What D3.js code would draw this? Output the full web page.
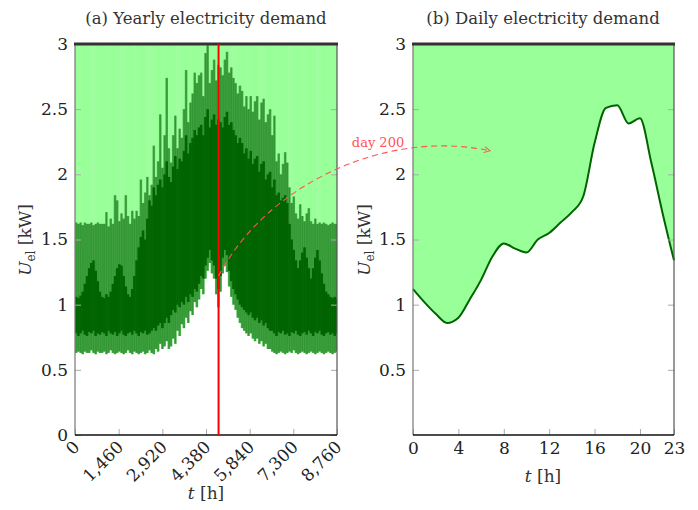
<!DOCTYPE html>
<html>
<head>
<meta charset="utf-8">
<script src="https://cdn.jsdelivr.net/npm/d3@7"></script>
<style>
body { margin: 0; background: #fff; }
svg text { font-family: "DejaVu Serif", "Liberation Serif", "Times New Roman", Times, "Noto Serif", serif; }
</style>
</head>
<body>
<svg id="chart" width="698" height="510"></svg>
<script>
// ------------- DATA ------------- //
var sampleStep = 72; // hours between envelope samples of the yearly series
var selectedDay = 200;

// upper / lower envelope of the hourly yearly demand (kW), one value per sample
var yearHi = [1.63,1.62,1.63,1.61,1.63,1.62,1.62,1.63,1.61,1.62,1.63,1.62,1.62,
  1.62,1.71,1.60,1.66,1.62,1.84,1.80,1.64,1.70,1.66,1.84,1.68,1.62,1.72,1.66,1.72,1.68,
  1.96,1.78,1.86,1.98,1.84,1.92,2.22,1.98,2.10,2.46,2.05,2.30,2.74,2.20,2.09,2.30,2.45,
  2.20,2.35,2.28,2.50,2.80,2.40,2.55,2.62,2.78,2.70,2.76,2.78,2.60,2.93,2.99,2.70,2.80,
  2.88,2.72,2.84,2.82,2.76,2.88,2.94,2.78,2.82,2.74,2.70,2.62,2.68,2.64,2.52,2.60,2.50,
  2.60,2.48,2.56,2.60,2.42,2.55,2.58,2.40,2.46,2.50,2.30,2.45,2.10,2.16,2.00,2.08,2.17,
  2.09,1.90,1.78,1.83,1.70,1.66,1.77,1.68,1.64,1.70,1.74,1.64,1.62,1.66,1.62,1.63,
  1.62,1.63,1.62,1.61,1.62,1.63,1.62,1.62];
var yearLo = [0.63,0.64,0.63,0.62,0.64,0.63,0.63,0.65,0.63,0.62,0.64,0.63,0.63,0.64,0.62,
  0.63,0.65,0.63,0.62,0.63,0.64,0.63,0.62,0.63,0.65,0.63,0.62,0.64,0.63,0.62,0.63,0.64,
  0.62,0.63,0.65,0.63,0.62,0.66,0.64,
  0.70,0.66,0.68,0.72,0.66,0.68,0.74,0.70,0.80,0.76,0.85,0.82,0.90,0.86,0.95,0.92,1.02,
  0.98,1.04,1.12,1.08,1.20,1.26,1.32,1.24,1.20,1.08,0.98,1.10,1.24,1.30,1.25,1.14,1.06,
  1.00,0.96,0.90,0.86,0.82,0.80,0.78,0.76,0.78,0.74,0.72,0.74,0.70,0.72,0.68,0.70,0.66,0.66,
  0.64,0.63,0.62,0.63,0.64,0.63,0.62,0.63,0.64,0.63,0.65,0.63,0.62,0.63,0.64,0.63,0.62,
  0.63,0.64,0.63,0.62,0.63,0.64,0.63,0.62,0.63,0.64,0.63,0.62,0.63,0.64];
// dense core of the hourly oscillation
var coreHi = [1.06,1.05,1.07,1.10,1.16,1.22,1.28,1.32,1.34,1.26,1.18,1.10,1.06,1.05,1.08,
  1.06,1.10,1.16,1.22,1.28,1.31,1.30,1.22,1.14,1.08,1.06,1.12,1.22,1.34,1.44,1.52,1.57,
  1.50,1.66,1.80,1.76,1.90,1.84,1.92,1.96,1.90,2.00,2.10,1.98,1.94,2.06,2.14,2.04,2.12,
  2.10,2.18,2.30,2.16,2.24,2.28,2.34,2.30,2.36,2.38,2.30,2.44,2.50,2.36,2.42,2.46,2.38,
  2.42,2.40,2.36,2.44,2.48,2.38,2.40,2.34,2.30,2.24,2.28,2.24,2.16,2.20,2.12,2.18,2.08,
  2.12,2.14,2.02,2.08,2.10,1.96,2.00,2.02,1.90,1.96,1.84,1.86,1.80,1.82,1.84,1.78,1.62,
  1.50,1.42,1.34,1.28,1.34,1.40,1.44,1.36,1.28,1.20,1.28,1.36,1.42,1.34,1.24,1.16,1.10,
  1.08,1.06,1.05,1.06,1.05];
var coreLo = [0.78,0.76,0.78,0.80,0.77,0.76,0.79,0.78,0.80,0.76,0.78,0.77,0.79,0.78,0.76,
  0.80,0.78,0.77,0.79,0.76,0.78,0.80,0.77,0.76,0.78,0.79,0.77,0.80,0.78,0.76,0.79,0.78,
  0.80,0.77,0.78,0.80,0.82,0.80,0.84,0.86,0.82,
  0.86,0.90,0.86,0.92,0.96,0.94,1.00,0.98,1.02,1.00,1.06,1.02,1.08,1.06,1.12,1.10,1.16,
  1.22,1.20,1.30,1.36,1.42,1.34,1.30,1.20,1.12,1.22,1.36,1.42,1.38,1.26,1.18,1.12,1.08,
  1.04,1.00,0.98,0.96,0.94,0.92,0.94,0.90,0.88,0.90,0.86,0.88,0.84,0.86,0.82,0.80,
  0.80,0.78,0.76,0.79,0.78,0.80,0.77,0.78,0.76,0.79,0.78,0.80,0.77,0.76,0.78,0.79,0.77,
  0.80,0.78,0.76,0.79,0.78,0.80,0.77,0.76,0.78,0.79,0.77,0.78,0.76,0.78];

// hourly demand of day 200 (kW)
var dayHours = [0,1,2,3,4,5,6,7,8,9,10,11,12,13,14,15,16,17,18,19,20,21,22,23];
var dayDemand = [1.12,1.02,0.93,0.86,0.90,1.04,1.19,1.37,1.47,1.43,1.40,1.50,1.55,1.63,
  1.71,1.83,2.24,2.51,2.53,2.39,2.43,2.09,1.70,1.34];

var yearTicks = [0,1460,2920,4380,5840,7300,8760];
var dayTicks = [0,4,8,12,16,20,23];
var yTicks = [0,0.5,1,1.5,2,2.5,3];
var yMax = 3;

// ------------- SETUP ------------- //
var serif = "'DejaVu Serif', 'Liberation Serif', 'Times New Roman', Times, serif";
var lightGreen = "#99ff99", darkGreen = "#006400";
var svg = d3.select("#chart").attr("font-family", serif);
var top_ = 44, bottom = 435;

var xL = d3.scaleLinear().domain([0, 8760]).range([75, 337]);
var xR = d3.scaleLinear().domain([0, 23]).range([413, 674]);
var y = d3.scaleLinear().domain([0, yMax]).range([bottom, top_]);

svg.append("clipPath").attr("id", "clipL").append("rect")
  .attr("x", 75).attr("y", top_).attr("width", 262).attr("height", bottom - top_);

// ------------- LEFT: YEARLY ------------- //
var samples = yearHi.map(function(d, i) {
  return { t: i * sampleStep, hi: d, lo: yearLo[i], cHi: coreHi[i], cLo: coreLo[i] };
});
var bw = xL(sampleStep) - xL(0) + 0.4;
var gL = svg.append("g").attr("clip-path", "url(#clipL)");

gL.selectAll("rect.fill").data(samples).enter().append("rect")
  .attr("x", function(d) { return xL(d.t); })
  .attr("width", bw)
  .attr("y", y(yMax))
  .attr("height", function(d) { return y(d.lo) - y(yMax); })
  .attr("fill", lightGreen);

// outer band, plus thinner streaks on top of it for the dense hourly look
gL.selectAll("rect.outer").data(samples).enter().append("rect")
  .attr("x", function(d) { return xL(d.t); })
  .attr("width", bw)
  .attr("y", function(d) { return y(d.hi); })
  .attr("height", function(d) { return y(d.lo) - y(d.hi); })
  .attr("fill", darkGreen).attr("fill-opacity", 0.5);
gL.selectAll("rect.streak").data(samples).enter().append("rect")
  .attr("x", function(d) { return xL(d.t) + bw * 0.3; })
  .attr("width", bw * 0.45)
  .attr("y", function(d) { return y(d.hi); })
  .attr("height", function(d) { return y(d.lo) - y(d.hi); })
  .attr("fill", darkGreen).attr("fill-opacity", 0.35);

gL.selectAll("rect.core").data(samples).enter().append("rect")
  .attr("x", function(d) { return xL(d.t); })
  .attr("width", bw)
  .attr("y", function(d) { return y(d.cHi); })
  .attr("height", function(d) { return y(d.cLo) - y(d.cHi); })
  .attr("fill", darkGreen);

// ------------- RIGHT: DAILY ------------- //
var day = dayHours.map(function(h, i) { return { h: h, v: dayDemand[i] }; });

svg.append("path").datum(day)
  .attr("d", d3.area().x(function(d) { return xR(d.h); })
    .y0(y(yMax)).y1(function(d) { return y(d.v); }).curve(d3.curveMonotoneX))
  .attr("fill", lightGreen);

svg.append("path").datum(day)
  .attr("d", d3.line().x(function(d) { return xR(d.h); })
    .y(function(d) { return y(d.v); }).curve(d3.curveMonotoneX))
  .attr("fill", "none").attr("stroke", darkGreen).attr("stroke-width", 2);

// ------------- AXES ------------- //
function drawAxes(x, ticks, yVals, rotate) {
  var x0 = x.range()[0], x1 = x.range()[1];
  var gx = svg.append("g").attr("transform", "translate(0," + bottom + ")")
    .call(d3.axisBottom(x).tickValues(ticks).tickSize(-6).tickPadding(7)
      .tickFormat(d3.format(",")));
  var gy = svg.append("g").attr("transform", "translate(" + x0 + ",0)")
    .call(d3.axisLeft(y).tickValues(yVals).tickSize(-6).tickPadding(7)
      .tickFormat(function(d) { return String(d); }));
  var gy2 = svg.append("g").attr("transform", "translate(" + x1 + ",0)")
    .call(d3.axisRight(y).tickValues(yVals).tickSize(-6).tickFormat(""));
  [gx, gy, gy2].forEach(function(g) {
    g.attr("font-family", serif);
    g.select(".domain").remove();
    g.selectAll(".tick line").attr("stroke", "#aaa").attr("stroke-width", 1);
    g.selectAll(".tick text").attr("font-size", 17).attr("fill", "#222");
  });
  if (rotate) {
    gx.selectAll(".tick text").attr("y", 0).attr("dy", "0.35em")
      .attr("text-anchor", "end").attr("transform", "translate(1,9) rotate(-45)");
  }
  // frame
  svg.append("line").attr("x1", x0).attr("x2", x0).attr("y1", top_).attr("y2", bottom)
    .attr("stroke", "#777").attr("stroke-width", 1.2);
  svg.append("line").attr("x1", x1).attr("x2", x1).attr("y1", top_).attr("y2", bottom)
    .attr("stroke", "#555").attr("stroke-width", 1.2);
  svg.append("line").attr("x1", x0).attr("x2", x1).attr("y1", bottom).attr("y2", bottom)
    .attr("stroke", "#111").attr("stroke-width", 1.4);
  svg.append("line").attr("x1", x0 - 1).attr("x2", x1 + 1).attr("y1", y(yMax)).attr("y2", y(yMax))
    .attr("stroke", "#333").attr("stroke-width", 3);
}
drawAxes(xL, yearTicks, yTicks, true);
drawAxes(xR, dayTicks, yTicks.slice(1), false);

// selected day marker
svg.append("line")
  .attr("x1", xL(selectedDay * 24)).attr("x2", xL(selectedDay * 24))
  .attr("y1", top_).attr("y2", bottom)
  .attr("stroke", "#ff0000").attr("stroke-width", 2);

// ------------- LABELS ------------- //
function title(txt, cx) {
  svg.append("text").attr("x", cx).attr("y", 24).attr("text-anchor", "middle")
    .attr("font-size", 16.5).attr("fill", "#333").text(txt);
}
title("(a) Yearly electricity demand", 206);
title("(b) Daily electricity demand", 543);

function yLabel(cx) {
  var t = svg.append("text").attr("transform", "translate(" + cx + ",240) rotate(-90)")
    .attr("text-anchor", "middle").attr("font-size", 17).attr("fill", "#333");
  t.append("tspan").attr("font-style", "italic").text("U");
  t.append("tspan").attr("font-size", 12).attr("dy", 4).text("el");
  t.append("tspan").attr("dy", -4).text(" [kW]");
}
yLabel(31);
yLabel(370);

function xLabel(cx, cy) {
  var t = svg.append("text").attr("x", cx).attr("y", cy).attr("text-anchor", "middle")
    .attr("font-size", 17).attr("fill", "#333");
  t.append("tspan").attr("font-style", "italic").text("t");
  t.append("tspan").text(" [h]");
}
xLabel(206, 499);
xLabel(543, 482);

// ------------- ANNOTATION ------------- //
var p0 = [xL(selectedDay * 24), y(1.22)], p1 = [xR(6.8), y(2.18)];
svg.append("defs").append("marker").attr("id", "arrow")
  .attr("viewBox", "0 0 10 10").attr("refX", 9).attr("refY", 5)
  .attr("markerWidth", 7).attr("markerHeight", 7).attr("orient", "auto")
  .append("path").attr("d", "M1,1 L9,5 L1,9").attr("fill", "none")
  .attr("stroke", "#ff5555").attr("stroke-width", 1.3);
svg.append("path")
  .attr("d", "M" + p0 + " C" + (p0[0] + 50) + "," + (p0[1] - 95) + " " +
    (p1[0] - 100) + "," + (p1[1] - 22) + " " + p1)
  .attr("fill", "none").attr("stroke", "#ff5555").attr("stroke-width", 1.1)
  .attr("stroke-dasharray", "6,4").attr("marker-end", "url(#arrow)");
svg.append("text").attr("x", 378).attr("y", 147).attr("text-anchor", "middle")
  .attr("font-size", 13).attr("fill", "#ff5555").text("day " + selectedDay);
</script>
</body>
</html>
